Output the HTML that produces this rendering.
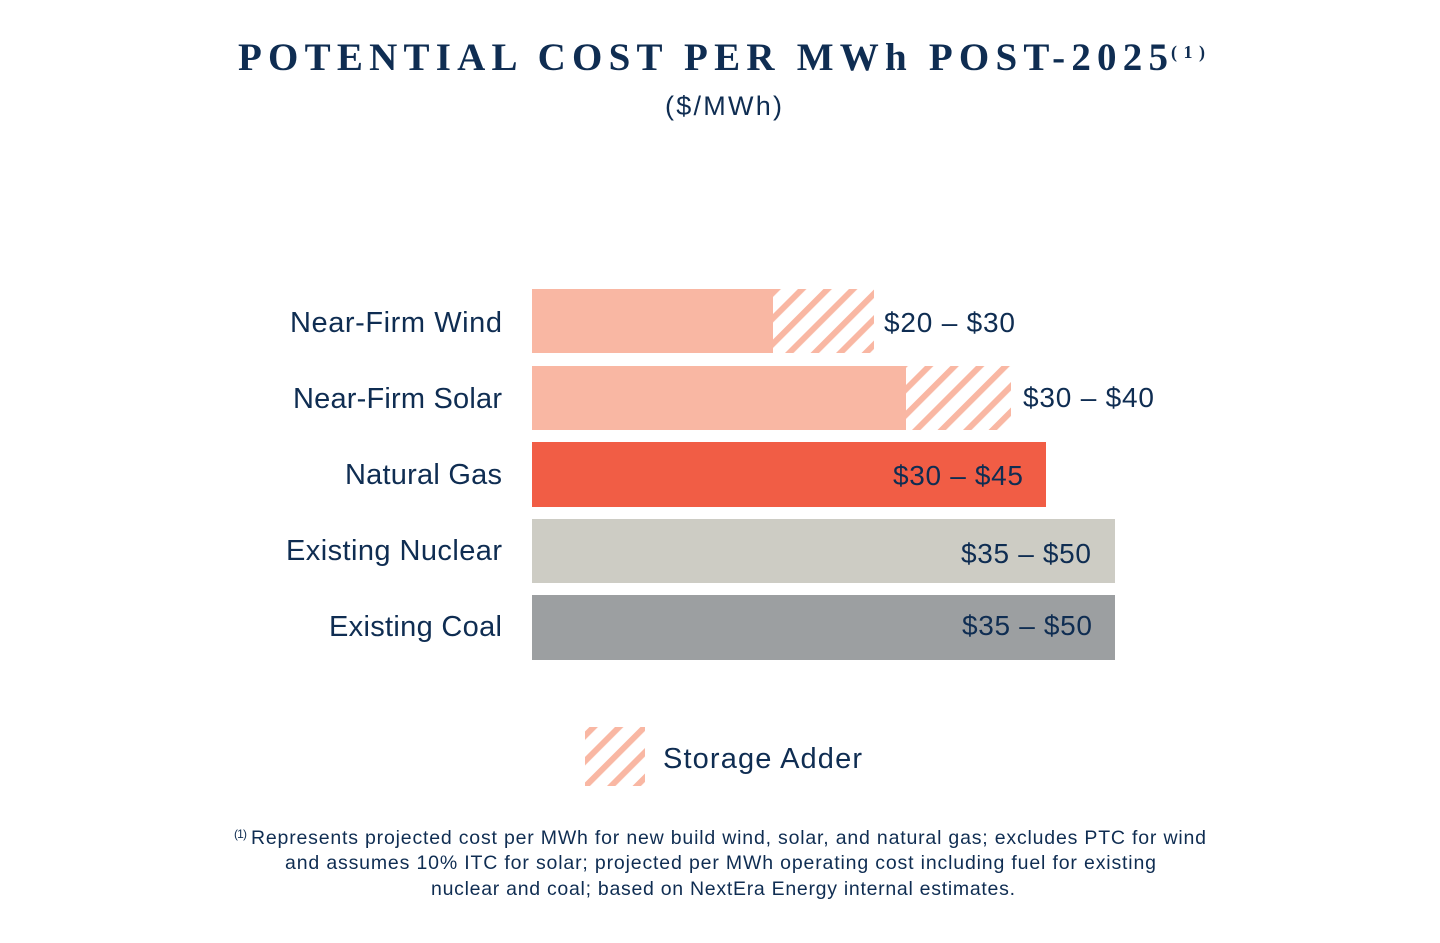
<!DOCTYPE html>
<html>
<head>
<meta charset="utf-8">
<style>
  html, body { margin: 0; padding: 0; background: #ffffff; }
  svg { display: block; }
</style>
</head>
<body>
<svg width="1440" height="943" viewBox="0 0 1440 943" xmlns="http://www.w3.org/2000/svg">
  <defs>
    <pattern id="hatch" patternUnits="userSpaceOnUse" x="11.35" y="0" width="18.03" height="18.03" patternTransform="rotate(45)">
      <rect x="0" y="0" width="6" height="18.03" fill="#F9B7A3"/>
    </pattern>
  </defs>
  <rect width="1440" height="943" fill="#ffffff"/>

  <!-- Title -->
  <text x="238" y="70" font-family="'Liberation Serif', serif" font-weight="bold" font-size="39" fill="#0F2D52" textLength="930" lengthAdjust="spacing">POTENTIAL COST PER MWh POST-2025</text>
  <text x="1171" y="58" font-family="'Liberation Serif', serif" font-weight="bold" font-size="18" fill="#0F2D52" textLength="34" lengthAdjust="spacing">(1)</text>
  <text x="665" y="115" font-family="'Liberation Sans', sans-serif" font-size="27" fill="#0F2D52" textLength="117" lengthAdjust="spacing">($/MWh)</text>

  <!-- Bars -->
  <rect x="532" y="289" width="241" height="64" fill="#F9B7A3"/>
  <rect x="773" y="289" width="101" height="64" fill="url(#hatch)"/>

  <rect x="532" y="366" width="374" height="64" fill="#F9B7A3"/>
  <rect x="906" y="366" width="105" height="64" fill="url(#hatch)"/>

  <rect x="532" y="442" width="514" height="65" fill="#F15D45"/>
  <rect x="532" y="519" width="583" height="64" fill="#CDCCC4"/>
  <rect x="532" y="595" width="583" height="65" fill="#9C9FA1"/>

  <!-- Row labels -->
  <g font-family="'Liberation Sans', sans-serif" font-size="29" fill="#0F2D52">
    <text x="290" y="332" textLength="212" lengthAdjust="spacing">Near-Firm Wind</text>
    <text x="293" y="408" textLength="209" lengthAdjust="spacing">Near-Firm Solar</text>
    <text x="345" y="484" textLength="157" lengthAdjust="spacing">Natural Gas</text>
    <text x="286" y="560" textLength="216" lengthAdjust="spacing">Existing Nuclear</text>
    <text x="329" y="636" textLength="173" lengthAdjust="spacing">Existing Coal</text>
  </g>

  <!-- Value labels -->
  <g font-family="'Liberation Sans', sans-serif" font-size="28" fill="#0F2D52">
    <text x="884" y="332" textLength="131" lengthAdjust="spacing">$20 – $30</text>
    <text x="1023" y="407" textLength="131" lengthAdjust="spacing">$30 – $40</text>
    <text x="893" y="485" textLength="130" lengthAdjust="spacing">$30 – $45</text>
    <text x="961" y="563" textLength="130" lengthAdjust="spacing">$35 – $50</text>
    <text x="962" y="635" textLength="130" lengthAdjust="spacing">$35 – $50</text>
  </g>

  <!-- Legend -->
  <rect x="585" y="727" width="60" height="59" fill="url(#hatch)"/>
  <text x="663" y="768" font-family="'Liberation Sans', sans-serif" font-size="29" fill="#0F2D52" textLength="199" lengthAdjust="spacing">Storage Adder</text>

  <!-- Footnote -->
  <g font-family="'Liberation Sans', sans-serif" fill="#0F2D52">
    <text x="234" y="838" font-size="12" textLength="13" lengthAdjust="spacing">(1)</text>
    <text x="251" y="844" font-size="19.5" textLength="955" lengthAdjust="spacing">Represents projected cost per MWh for new build wind, solar, and natural gas; excludes PTC for wind</text>
    <text x="285" y="869" font-size="19.5" textLength="871" lengthAdjust="spacing">and assumes 10% ITC for solar; projected per MWh operating cost including fuel for existing</text>
    <text x="431" y="895" font-size="19.5" textLength="584" lengthAdjust="spacing">nuclear and coal; based on NextEra Energy internal estimates.</text>
  </g>
</svg>
</body>
</html>
